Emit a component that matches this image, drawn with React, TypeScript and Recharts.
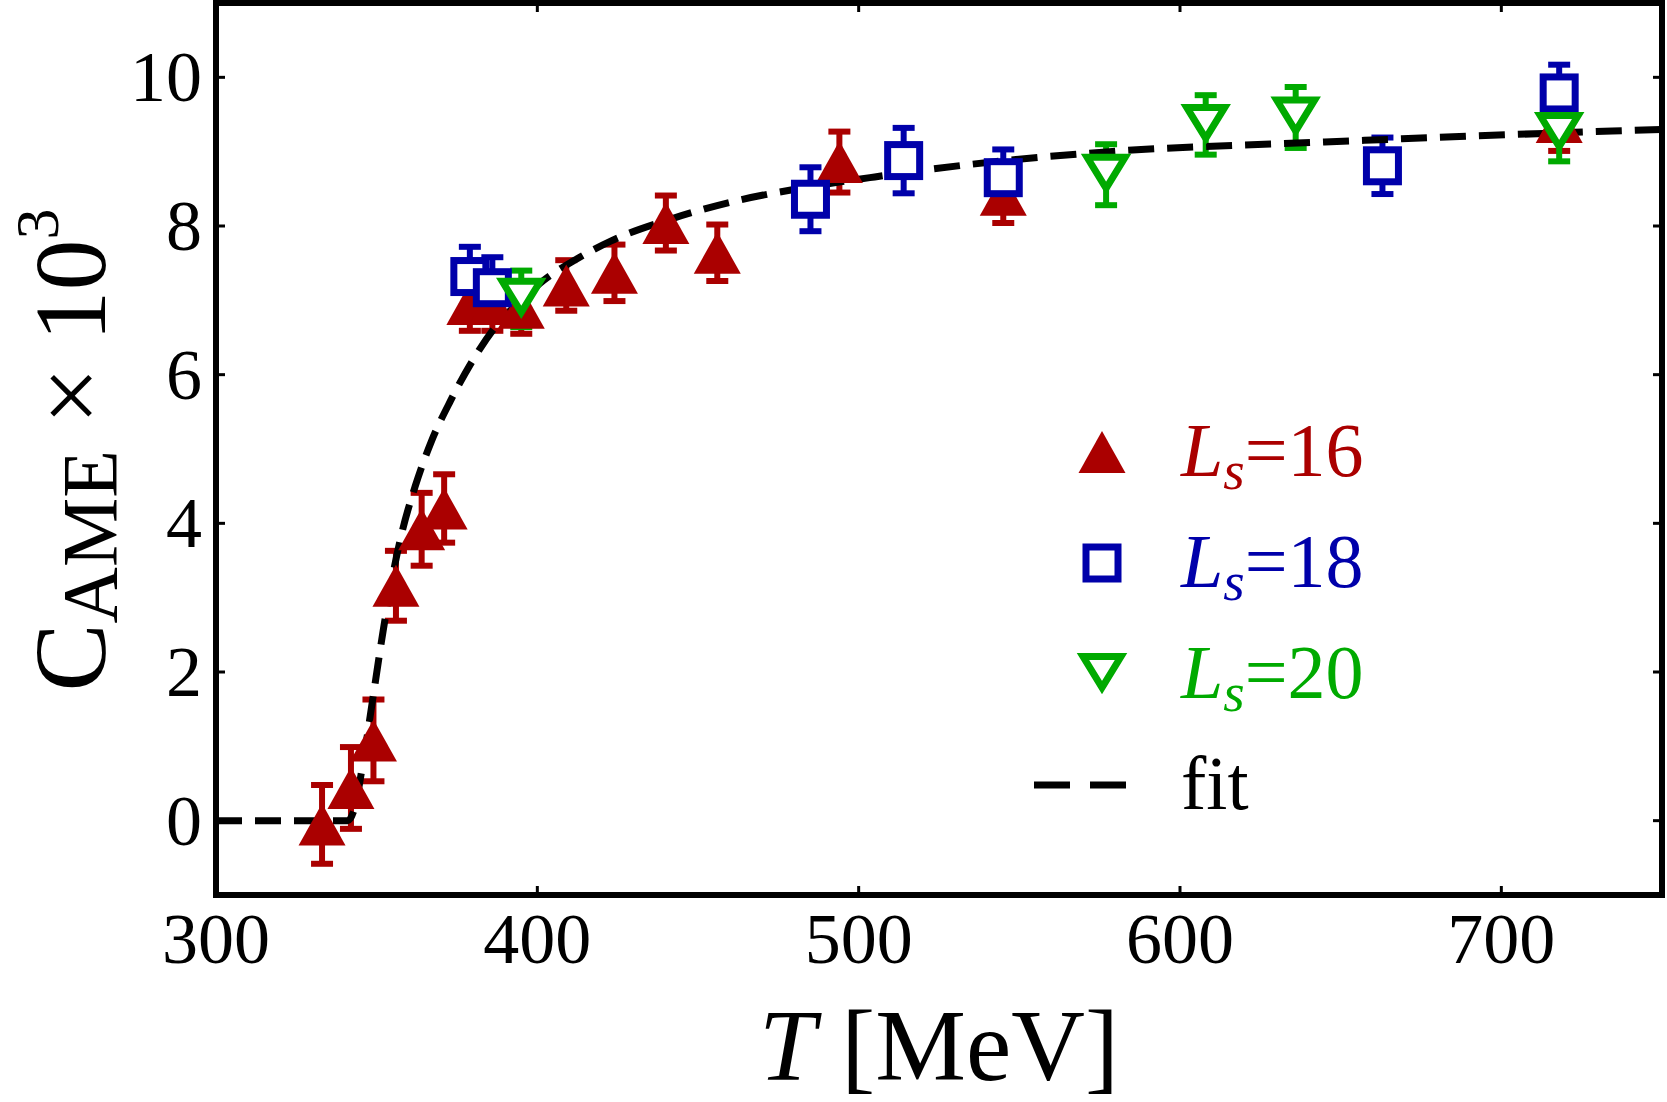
import React from 'react';
import { ComposedChart, Scatter, Line, XAxis, YAxis, ErrorBar, Legend } from 'recharts';

const RED = '#aa0000';
const BLUE = '#0000aa';
const GREEN = '#00aa00';
const FONT = '"Liberation Serif", "Times New Roman", serif';

const xTicks = [300, 400, 500, 600, 700];
const yTicks = [0, 2, 4, 6, 8, 10];

// L_s = 16
const t16 = [333, 342, 349, 356, 364, 371, 379, 386, 395, 409, 424, 440, 456, 494, 545, 718];
const c16 = [-0.05, 0.44, 1.08, 3.16, 3.92, 4.2, 6.95, 6.95, 6.9, 7.2, 7.37, 8.04, 7.64, 8.86, 8.42, 9.4];
const e16 = [0.53, 0.55, 0.55, 0.47, 0.49, 0.46, 0.36, 0.36, 0.35, 0.34, 0.38, 0.37, 0.38, 0.41, 0.38, 0.39];

// L_s = 18
const t18 = [379, 386, 485, 514, 545, 663, 718];
const c18 = [7.32, 7.17, 8.36, 8.88, 8.65, 8.81, 9.79];
const e18 = [0.4, 0.41, 0.43, 0.44, 0.38, 0.38, 0.38];

// L_s = 20
const t20 = [395, 577, 608, 636, 718];
const c20 = [7.02, 8.69, 9.36, 9.46, 9.25];
const e20 = [0.38, 0.41, 0.4, 0.41, 0.38];

// fit curve
const fitT = [300, 341, 343, 346, 349, 352, 355, 358, 362, 367, 373, 380, 388, 395, 402, 412, 423, 442, 461, 481, 505, 535, 578, 645, 716, 750];
const fitC = [0, 0, 0.15, 0.85, 1.7, 2.55, 3.3, 3.9, 4.5, 5.1, 5.65, 6.2, 6.7, 7.0, 7.27, 7.55, 7.8, 8.1, 8.33, 8.5, 8.66, 8.83, 9.0, 9.13, 9.25, 9.3];

const legendSizes = ['16', '18', '20'];

const zip = (t: number[], c: number[], e?: number[]) =>
  t.map((v, i) => ({ t: v, c: c[i], err: e ? e[i] : 0 }));

const data16 = zip(t16, c16, e16);
const data18 = zip(t18, c18, e18);
const data20 = zip(t20, c20, e20);
const fitData = zip(fitT, fitC);

const triangleUp = (cx: number, cy: number) => (
  <path d={`M${cx},${cy - 21}L${cx + 23.5},${cy + 21}L${cx - 23.5},${cy + 21}Z`} fill={RED} />
);
const squareOpen = (cx: number, cy: number) => (
  <rect x={cx - 16} y={cy - 16} width={32} height={32} fill="#fff" stroke={BLUE} strokeWidth={7} />
);
const triangleDown = (cx: number, cy: number) => (
  <path
    d={`M${cx - 19},${cy - 17.5}L${cx + 19},${cy - 17.5}L${cx},${cy + 13.5}Z`}
    fill="#fff"
    stroke={GREEN}
    strokeWidth={7}
  />
);

const markers = [triangleUp, squareOpen, triangleDown];
const colors = [RED, BLUE, GREEN];

function BottomTick({ x, y, payload }: any) {
  return (
    <g>
      <line x1={x} y1={y} x2={x} y2={y - 9} stroke="#000" strokeWidth={3} />
      <text x={x} y={y + 68} textAnchor="middle" fontFamily={FONT} fontSize={72} fill="#000">
        {payload.value}
      </text>
    </g>
  );
}

function TopTick({ x, y }: any) {
  return <line x1={x} y1={y} x2={x} y2={y + 9} stroke="#000" strokeWidth={3} />;
}

function LeftTick({ x, y, payload }: any) {
  return (
    <g>
      <line x1={x} y1={y} x2={x + 9} y2={y} stroke="#000" strokeWidth={3} />
      <text x={x - 14} y={y + 24} textAnchor="end" fontFamily={FONT} fontSize={72} fill="#000">
        {payload.value}
      </text>
    </g>
  );
}

function RightTick({ x, y }: any) {
  return <line x1={x} y1={y} x2={x - 9} y2={y} stroke="#000" strokeWidth={3} />;
}

function XTitle({ viewBox }: any) {
  const { x, y, width } = viewBox;
  return (
    <text x={x + width / 2} y={y + 185} textAnchor="middle" fontFamily={FONT} fontSize={102} fill="#000">
      <tspan fontStyle="italic">T</tspan>
      <tspan> [MeV]</tspan>
    </text>
  );
}

function YTitle() {
  const bx = 105;
  const by = 450;
  return (
    <text
      x={bx}
      y={by}
      transform={`rotate(-90, ${bx}, ${by})`}
      textAnchor="middle"
      fontFamily={FONT}
      fill="#000"
    >
      <tspan fontSize={102}>C</tspan>
      <tspan fontSize={78} dy={11}>AME</tspan>
      <tspan fontSize={102} dy={-11}> × 10</tspan>
      <tspan fontSize={62} dy={-47}>3</tspan>
    </text>
  );
}

function LegendBox() {
  return (
    <svg width={340} height={460} style={{ overflow: 'visible' }}>
      {legendSizes.map((s, i) => {
        const cy = 72 + i * 111;
        return (
          <g key={s}>
            {markers[i](102, cy)}
            <text x={181} y={cy + 24} fontFamily={FONT} fontSize={76} fill={colors[i]}>
              <tspan fontStyle="italic">L</tspan>
              <tspan fontStyle="italic" fontSize={55} dy={13}>s</tspan>
              <tspan dy={-13}>={s}</tspan>
            </text>
          </g>
        );
      })}
      <line x1={34} y1={405} x2={126} y2={405} stroke="#000" strokeWidth={7} strokeDasharray="36 20" />
      <text x={181} y={429} fontFamily={FONT} fontSize={76} fill="#000">fit</text>
    </svg>
  );
}

const frame = { stroke: '#000', strokeWidth: 6, strokeLinecap: 'square' as const };

export default function App() {
  return (
    <div style={{ position: 'absolute', left: 0, top: 0, background: '#fff' }}>
      <ComposedChart width={1667} height={1102} margin={{ top: 2, right: 4, bottom: 0, left: 0 }}>
        <XAxis
          xAxisId={0}
          dataKey="t"
          type="number"
          domain={[300, 750]}
          ticks={xTicks}
          interval={0}
          height={207}
          tickSize={0}
          tickMargin={0}
          tickLine={false}
          axisLine={frame}
          tick={BottomTick}
          label={{ content: XTitle }}
          allowDataOverflow
        />
        <XAxis
          xAxisId="top"
          orientation="top"
          dataKey="t"
          type="number"
          domain={[300, 750]}
          ticks={xTicks}
          interval={0}
          height={1}
          tickSize={0}
          tickMargin={0}
          tickLine={false}
          axisLine={frame}
          tick={TopTick}
          allowDataOverflow
        />
        <YAxis
          yAxisId={0}
          dataKey="c"
          type="number"
          domain={[-1, 11]}
          ticks={yTicks}
          interval={0}
          width={216}
          tickSize={0}
          tickMargin={0}
          tickLine={false}
          axisLine={frame}
          tick={LeftTick}
          label={{ content: YTitle }}
          allowDataOverflow
        />
        <YAxis
          yAxisId="right"
          orientation="right"
          dataKey="c"
          type="number"
          domain={[-1, 11]}
          ticks={yTicks}
          interval={0}
          width={1}
          tickSize={0}
          tickMargin={0}
          tickLine={false}
          axisLine={frame}
          tick={RightTick}
          allowDataOverflow
        />
        <Legend
          layout="vertical"
          align="center"
          verticalAlign="middle"
          wrapperStyle={{ left: 1000, top: 380, width: 340, height: 460 }}
          content={() => <LegendBox />}
        />
        <Scatter
          data={data16}
          dataKey="c"
          isAnimationActive={false}
          shape={(p: any) => triangleUp(p.cx, p.cy)}
        >
          <ErrorBar dataKey="err" direction="y" width={11} stroke={RED} strokeWidth={6} isAnimationActive={false} />
        </Scatter>
        <Scatter
          data={data18}
          dataKey="c"
          isAnimationActive={false}
          shape={(p: any) => squareOpen(p.cx, p.cy)}
        >
          <ErrorBar dataKey="err" direction="y" width={11} stroke={BLUE} strokeWidth={6} isAnimationActive={false} />
        </Scatter>
        <Scatter
          data={data20}
          dataKey="c"
          isAnimationActive={false}
          shape={(p: any) => triangleDown(p.cx, p.cy)}
        >
          <ErrorBar dataKey="err" direction="y" width={11} stroke={GREEN} strokeWidth={6} isAnimationActive={false} />
        </Scatter>
        <Line
          data={fitData}
          dataKey="c"
          type="monotone"
          stroke="#000"
          strokeWidth={7}
          strokeDasharray="26 13"
          dot={false}
          activeDot={false}
          isAnimationActive={false}
        />
      </ComposedChart>
    </div>
  );
}
